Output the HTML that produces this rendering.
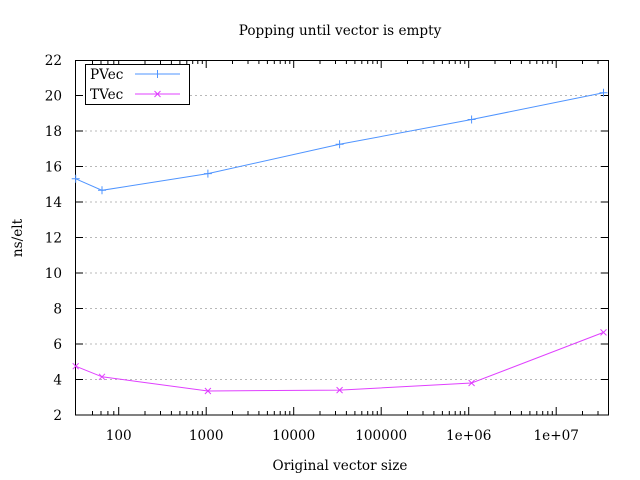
<!DOCTYPE html>
<html><head><style>body{margin:0;background:#fff}svg{display:block}</style></head><body>
<svg width="640" height="480" xmlns="http://www.w3.org/2000/svg" font-family="'DejaVu Serif', serif" font-size="13.6" fill="#000">
<rect width="640" height="480" fill="#fff"/>
<g stroke="#b8b8b8" stroke-width="1" stroke-dasharray="2,3">
<line x1="75" y1="379.5" x2="609" y2="379.5"/><line x1="75" y1="344" x2="609" y2="344"/><line x1="75" y1="308.5" x2="609" y2="308.5"/><line x1="75" y1="273" x2="609" y2="273"/><line x1="75" y1="237.5" x2="609" y2="237.5"/><line x1="75" y1="202" x2="609" y2="202"/><line x1="75" y1="166.5" x2="609" y2="166.5"/><line x1="75" y1="131" x2="609" y2="131"/><line x1="190" y1="95.5" x2="609" y2="95.5"/>
</g>
<g stroke="#000" stroke-width="1">
<path d="M75,379.5h8M75,344h8M75,308.5h8M75,273h8M75,237.5h8M75,202h8M75,166.5h8M75,131h8M75,95.5h8M609,379.5h-8M609,344h-8M609,308.5h-8M609,273h-8M609,237.5h-8M609,202h-8M609,166.5h-8M609,131h-8M609,95.5h-8"/>
<path d="M118.7,415v-8M206.2,415v-8M293.7,415v-8M381.2,415v-8M468.7,415v-8M556.2,415v-8M118.7,60v8M206.2,60v8M293.7,60v8M381.2,60v8M468.7,60v8M556.2,60v8"/>
<path d="M92.5,415v-4M101,415v-4M107.9,415v-4M113.8,415v-4M145,415v-4M160.5,415v-4M171.4,415v-4M179.9,415v-4M186.8,415v-4M192.7,415v-4M197.8,415v-4M202.3,415v-4M232.5,415v-4M248,415v-4M258.9,415v-4M267.4,415v-4M274.3,415v-4M280.2,415v-4M285.3,415v-4M289.8,415v-4M320,415v-4M335.5,415v-4M346.4,415v-4M354.9,415v-4M361.8,415v-4M367.7,415v-4M372.8,415v-4M377.3,415v-4M407.5,415v-4M423,415v-4M433.9,415v-4M442.4,415v-4M449.3,415v-4M455.2,415v-4M460.3,415v-4M464.8,415v-4M495,415v-4M510.5,415v-4M521.4,415v-4M529.9,415v-4M536.8,415v-4M542.7,415v-4M547.8,415v-4M552.3,415v-4M582.5,415v-4M598,415v-4"/>
<path d="M92.5,60v4M101,60v4M107.9,60v4M113.8,60v4M145,60v4M160.5,60v4M171.4,60v4M179.9,60v4M186.8,60v4M192.7,60v4M197.8,60v4M202.3,60v4M232.5,60v4M248,60v4M258.9,60v4M267.4,60v4M274.3,60v4M280.2,60v4M285.3,60v4M289.8,60v4M320,60v4M335.5,60v4M346.4,60v4M354.9,60v4M361.8,60v4M367.7,60v4M372.8,60v4M377.3,60v4M407.5,60v4M423,60v4M433.9,60v4M442.4,60v4M449.3,60v4M455.2,60v4M460.3,60v4M464.8,60v4M495,60v4M510.5,60v4M521.4,60v4M529.9,60v4M536.8,60v4M542.7,60v4M547.8,60v4M552.3,60v4M582.5,60v4M598,60v4"/>
<rect x="75.5" y="60.5" width="533" height="354.5" fill="none"/>
<rect x="85.5" y="64.5" width="104" height="40" fill="#fff"/>
</g>
<g text-anchor="end">
<text x="62" y="420">2</text><text x="62" y="384.5">4</text><text x="62" y="349">6</text><text x="62" y="313.5">8</text><text x="62" y="278">10</text><text x="62" y="242.5">12</text><text x="62" y="207">14</text><text x="62" y="171.5">16</text><text x="62" y="136">18</text><text x="62" y="100.5">20</text><text x="62" y="65">22</text>
</g>
<g text-anchor="middle">
<text x="118.7" y="440">100</text><text x="206.2" y="440">1000</text><text x="293.7" y="440">10000</text><text x="381.2" y="440">100000</text><text x="468.7" y="440">1e+06</text><text x="556.2" y="440">1e+07</text>
<text x="340" y="470">Original vector size</text>
<text x="340" y="35">Popping until vector is empty</text>
<text transform="translate(22,238) rotate(-90)">ns/elt</text>
</g>
<text x="90" y="79">PVec</text><text x="90" y="99">TVec</text>
<g stroke="#4f94ff" fill="none" stroke-width="1">
<path d="M135,74h45M157.5,70v8"/>
<polyline points="75.7,178.8 102,190.3 207.9,173.6 339.6,144.3 471.6,119.5 603.5,92.8"/>
<path d="M75.7,174.8v8M71.7,178.8h8M102,186.3v8M98,190.3h8M207.9,169.6v8M203.9,173.6h8M339.6,140.3v8M335.6,144.3h8M471.6,115.5v8M467.6,119.5h8M603.5,88.8v8M599.5,92.8h8"/>
</g>
<g stroke="#e040ff" fill="none" stroke-width="1">
<path d="M135,94h45M154.5,91l6,6M154.5,97l6,-6"/>
<polyline points="75.7,366.2 102,376.8 207.9,391 339.6,390.1 471.6,383 603.5,332.4"/>
<path d="M72.7,363.2l6,6M72.7,369.2l6,-6M99,373.8l6,6M99,379.8l6,-6M204.9,388l6,6M204.9,394l6,-6M336.6,387.1l6,6M336.6,393.1l6,-6M468.6,380l6,6M468.6,386l6,-6M600.5,329.4l6,6M600.5,335.4l6,-6"/>
</g>
</svg>
</body></html>
